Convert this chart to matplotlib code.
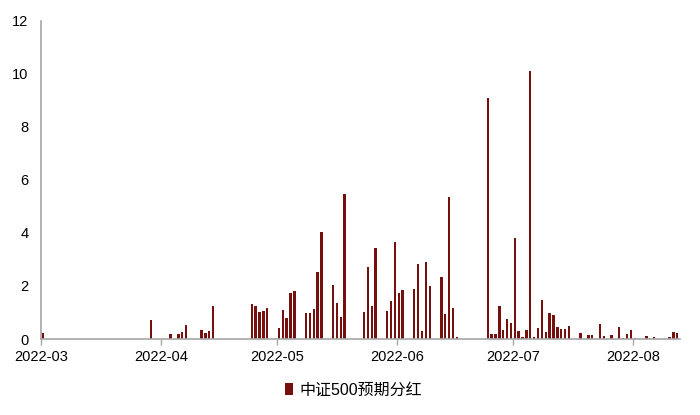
import matplotlib
matplotlib.use("Agg")
import matplotlib.pyplot as plt
import matplotlib.dates as mdates
import pandas as pd

dates = [
    "2022-03-01", "2022-03-29", "2022-04-03", "2022-04-05", "2022-04-06", "2022-04-07",
    "2022-04-11", "2022-04-12", "2022-04-13", "2022-04-14", "2022-04-24", "2022-04-25",
    "2022-04-26", "2022-04-27", "2022-04-28", "2022-05-01", "2022-05-02", "2022-05-03",
    "2022-05-04", "2022-05-05", "2022-05-08", "2022-05-09", "2022-05-10", "2022-05-11",
    "2022-05-12", "2022-05-15", "2022-05-16", "2022-05-17", "2022-05-18", "2022-05-23",
    "2022-05-24", "2022-05-25", "2022-05-26", "2022-05-29", "2022-05-30", "2022-05-31",
    "2022-06-01", "2022-06-02", "2022-06-05", "2022-06-06", "2022-06-07", "2022-06-08",
    "2022-06-09", "2022-06-12", "2022-06-13", "2022-06-14", "2022-06-15", "2022-06-16",
    "2022-06-24", "2022-06-25", "2022-06-26", "2022-06-27", "2022-06-28", "2022-06-29",
    "2022-06-30", "2022-07-01", "2022-07-02", "2022-07-03", "2022-07-04", "2022-07-05",
    "2022-07-06", "2022-07-07", "2022-07-08", "2022-07-09", "2022-07-10", "2022-07-11",
    "2022-07-12", "2022-07-13", "2022-07-14", "2022-07-15", "2022-07-18", "2022-07-20",
    "2022-07-21", "2022-07-23", "2022-07-24", "2022-07-26", "2022-07-28", "2022-07-29",
    "2022-07-30", "2022-07-31", "2022-08-01", "2022-08-04", "2022-08-06", "2022-08-10",
    "2022-08-11", "2022-08-12",
]
dividends = [
    0.22, 0.72, 0.18, 0.20, 0.28, 0.53,
    0.34, 0.23, 0.30, 1.23, 1.33, 1.23,
    1.01, 1.07, 1.17, 0.43, 1.11, 0.81,
    1.74, 1.82, 0.97, 0.97, 1.13, 2.53,
    4.03, 2.04, 1.37, 0.83, 5.45, 1.03,
    2.73, 1.26, 3.43, 1.04, 1.42, 3.66,
    1.72, 1.86, 1.89, 2.84, 0.29, 2.89,
    2.00, 2.33, 0.94, 5.36, 1.16, 0.06,
    9.10, 0.19, 0.19, 1.25, 0.33, 0.77,
    0.59, 3.82, 0.30, 0.06, 0.34, 10.10,
    0.07, 0.41, 1.47, 0.26, 0.99, 0.89,
    0.45, 0.38, 0.38, 0.50, 0.21, 0.15,
    0.15, 0.57, 0.13, 0.16, 0.46, 0.04,
    0.20, 0.33, 0.03, 0.11, 0.06, 0.09,
    0.26, 0.21,
]
series_name = "中证500预期分红"
y_ticks = [0, 2, 4, 6, 8, 10, 12]

plt.rcParams['font.family'] = ['Liberation Sans', 'Noto Sans CJK SC', 'DejaVu Sans']

fig = plt.figure(figsize=(7.0, 4.15), dpi=100)
ax = fig.add_axes([0.0586, 0.1831, 0.9128, 0.7670])

x = pd.to_datetime(dates) + pd.Timedelta(hours=12)
ax.bar(x, dividends, width=0.62, color="#75100F", label=series_name, linewidth=0)

start = pd.Timestamp("2022-03-01")
ax.set_xlim(start, start + pd.Timedelta(days=165.2))
ax.set_ylim(0, 12)
ax.set_yticks(y_ticks)

ax.xaxis.set_major_locator(mdates.MonthLocator())
ax.xaxis.set_major_formatter(mdates.DateFormatter('%Y-%m'))

for s in ['top', 'right']:
    ax.spines[s].set_visible(False)
for s in ['left', 'bottom']:
    ax.spines[s].set_color('#A6A6A6')
    ax.spines[s].set_linewidth(1.2)

ax.tick_params(axis='y', length=0, pad=9, labelsize=10.5, colors='black')
ax.tick_params(axis='x', length=4, width=1.0, color='#A6A6A6', pad=4, labelsize=10.5, labelcolor='black')

fig.legend(loc='center', bbox_to_anchor=(0.505, 0.06), frameon=False,
           fontsize=11.5, handlelength=0.55, handleheight=0.75, handletextpad=0.4)

fig.savefig("out.png", dpi=100)
